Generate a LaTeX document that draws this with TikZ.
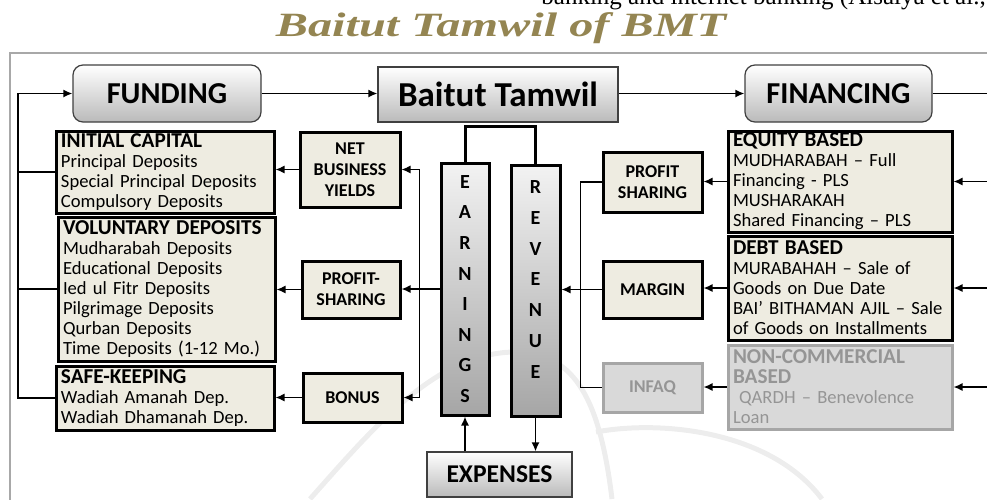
\documentclass[tikz,border=0pt]{standalone}
\usepackage{fontspec}
\setmainfont{Carlito}
\newfontfamily\pageface{Liberation Serif}
\usetikzlibrary{arrows.meta}
\usetikzlibrary{calc}

\definecolor{boxbeige}{HTML}{EEECE1}
\definecolor{offgray}{HTML}{D9D9D9}
\definecolor{offline}{HTML}{A6A6A6}
\definecolor{offtext}{HTML}{959595}
\definecolor{titlegold}{HTML}{948552}
\definecolor{framegray}{HTML}{A8A8A8}

\newcommand\boxhead[1]{{\bfseries\fontsize{10.6}{10}\selectfont #1}}

\tikzset{
  conn/.style={line width=0.75pt},
  headbox/.style={draw=black!75, line width=0.6pt, top color=white, bottom color=black!27,
    inner sep=0pt, font=\bfseries\fontsize{15.2}{17}\selectfont},
  listbox/.style={draw, line width=1.5pt, fill=boxbeige, align=left, inner xsep=2.5pt,
    inner ysep=0pt, font=\fontsize{9.3}{10}\selectfont},
  tagbox/.style={draw, line width=1.5pt, fill=boxbeige, align=center, inner sep=0pt,
    font=\bfseries\fontsize{9}{10.5}\selectfont},
  colbox/.style={draw, line width=1.5pt, top color=black!5, bottom color=black!35,
    inner sep=0pt, align=center, font=\bfseries\fontsize{10}{15.3}\selectfont},
  offbox/.style={draw=offline, fill=offgray, text=offtext},
  wmark/.style={black!7, line width=2.5pt},
}

\begin{document}
\begin{tikzpicture}[x=0.5pt, y=-0.5pt, >={Latex[length=4.5pt,width=4pt]}]
  \useasboundingbox (0,0) rectangle (987,499);

  % faint watermark
  \draw[wmark] (310,499) .. controls (380,420) and (440,350) .. (520,352)
    .. controls (575,355) and (600,400) .. (612,499);
  \draw[wmark] (596,432) .. controls (660,420) and (770,430) .. (822,499);

  % page text and title
  \node[anchor=base west, inner sep=0pt, font=\pageface\fontsize{12.5}{14}\selectfont] (pagetext)
    at (541,4) {banking and internet banking (Aisalya et al.,};
  \node[anchor=base, inner sep=0pt, text=titlegold, font=\pageface\bfseries\itshape\fontsize{17}{20}\selectfont] (title)
    at (501,36) {\scalebox{1.42}[1]{Baitut Tamwil of BMT}};
  \draw[framegray, line width=1pt] (10,510) -- (10,53) -- (1000,53);

  % top row
  \node[headbox, rounded corners=5pt, minimum width=94pt, minimum height=28.5pt] (fund) at (167,93.5) {FUNDING};
  \node[headbox, minimum width=120pt, minimum height=27.5pt, font=\bfseries\fontsize{17.5}{19}\selectfont] (tamwil) at (498,94.5) {Baitut Tamwil};
  \node[headbox, rounded corners=5pt, minimum width=93.5pt, minimum height=28.5pt] (fin) at (838.5,93.5) {FINANCING};

  % funding side
  \node[listbox, text width=104pt, minimum height=41pt] (initial) at (165,172)
    {\boxhead{INITIAL CAPITAL}\\Principal Deposits\\Special Principal Deposits\\Compulsory Deposits};
  \node[listbox, text width=103.5pt, minimum height=72pt] (voluntary) at (166.5,289)
    {\boxhead{VOLUNTARY DEPOSITS}\\Mudharabah Deposits\\Educational Deposits\\Ied ul Fitr Deposits\\Pilgrimage Deposits\\Qurban Deposits\\Time Deposits (1-12 Mo.)};
  \node[listbox, text width=104pt, minimum height=32pt] (safekeep) at (165,398)
    {\boxhead{SAFE-KEEPING}\\Wadiah Amanah Dep.\\Wadiah Dhamanah Dep.};

  \node[tagbox, minimum width=50pt, minimum height=37.5pt] (netyield) at (350,169.5) {NET\\BUSINESS\\YIELDS};
  \node[tagbox, minimum width=49pt, minimum height=28.5pt] (sharing) at (351,289.5) {PROFIT-\\SHARING};
  \node[tagbox, minimum width=49.5pt, minimum height=24.5pt] (bonus) at (352.5,397.5) {BONUS};

  % earnings and revenue
  \node[colbox, minimum width=24pt, minimum height=126pt] (earn) at (465,289) {E\\A\\R\\N\\I\\N\\G\\S};
  \node[colbox, minimum width=24.5pt, minimum height=125.5pt,
    label={[name=revtext, align=center, yshift=5.5pt, font=\bfseries\fontsize{10}{15.4}\selectfont]center:R\\E\\V\\E\\N\\U\\E}] (rev) at (535.5,290.5) {};
  \node[headbox, minimum width=72.5pt, minimum height=22.5pt, font=\bfseries\fontsize{12.8}{14}\selectfont] (expense) at (499.5,474.5) {EXPENSES};

  % financing side
  \node[tagbox, minimum width=49.5pt, minimum height=30pt] (profit) at (652.5,182) {PROFIT\\SHARING};
  \node[tagbox, minimum width=49.5pt, minimum height=28.5pt] (margin) at (652.5,289.5) {MARGIN};
  \node[tagbox, offbox, minimum width=49.5pt, minimum height=24.5pt] (infaq) at (652.5,387.5) {INFAQ};

  \node[listbox, text width=107pt, minimum height=50.5pt] (equity) at (840,181.5)
    {\boxhead{EQUITY BASED}\\MUDHARABAH – Full\\Financing - PLS\\MUSHARAKAH\\Shared Financing – PLS};
  \node[listbox, text width=107pt, minimum height=52pt] (debt) at (840,288)
    {\boxhead{DEBT BASED}\\MURABAHAH – Sale of\\Goods on Due Date\\BAI’ BITHAMAN AJIL – Sale\\of Goods on Installments};
  \node[listbox, offbox, text width=107pt, minimum height=42pt] (noncom) at (840,387)
    {\boxhead{NON-COMMERCIAL}\\\boxhead{BASED}\\\ QARDH – Benevolence\\Loan};

  % connectors
  \coordinate (lside) at (18,0);
  \coordinate (rside) at (995,0);
  \draw[conn, ->] (fund.east) -- (fund.east -| tamwil.west);
  \draw[conn, ->] (tamwil.east |- fin.west) -- (fin.west);
  \draw[conn] (fin.east) -- (fin.east -| rside);

  \draw[conn, ->] (safekeep.west) -| (lside |- fund.west) -- (fund.west);
  \draw[conn] (initial.west) -- (initial.west -| lside);
  \draw[conn] (voluntary.west) -- (voluntary.west -| lside);

  \draw[conn, ->] (netyield.west) -- (netyield.west -| initial.east);
  \draw[conn, ->] (sharing.west) -- (sharing.west -| voluntary.east);
  \draw[conn, ->] (bonus.west) -- (bonus.west -| safekeep.east);

  \draw[conn, ->] (earn.west) -- ++(-20,0) |- (netyield.east);
  \draw[conn, ->] (earn.west) -- ++(-20,0) |- (bonus.east);
  \draw[conn, ->] (earn.west) -- (earn.west -| sharing.east);

  \draw[line width=1.5pt] (earn.north) -- ++(0,-35) -| (rev.north);
  \draw[conn, ->] (expense.north -| earn) -- (earn.south);
  \draw[conn, ->] (rev.south) -- (rev.south |- expense.north);

  \draw[conn] (profit.west) -- ++(-21,0) |- (infaq.west);
  \draw[conn, ->] (margin.west) -- (margin.west -| rev.east);

  \draw[conn, ->] (equity.west) -- (equity.west -| profit.east);
  \draw[conn, ->] (debt.west) -- (debt.west -| margin.east);
  \draw[conn, ->] (noncom.west) -- (noncom.west -| infaq.east);

  \draw[conn, ->] (equity.east -| rside) -- (equity.east);
  \draw[conn, ->] (debt.east -| rside) -- (debt.east);
  \draw[conn, ->] (noncom.east -| rside) -- (noncom.east);
\end{tikzpicture}
\end{document}
